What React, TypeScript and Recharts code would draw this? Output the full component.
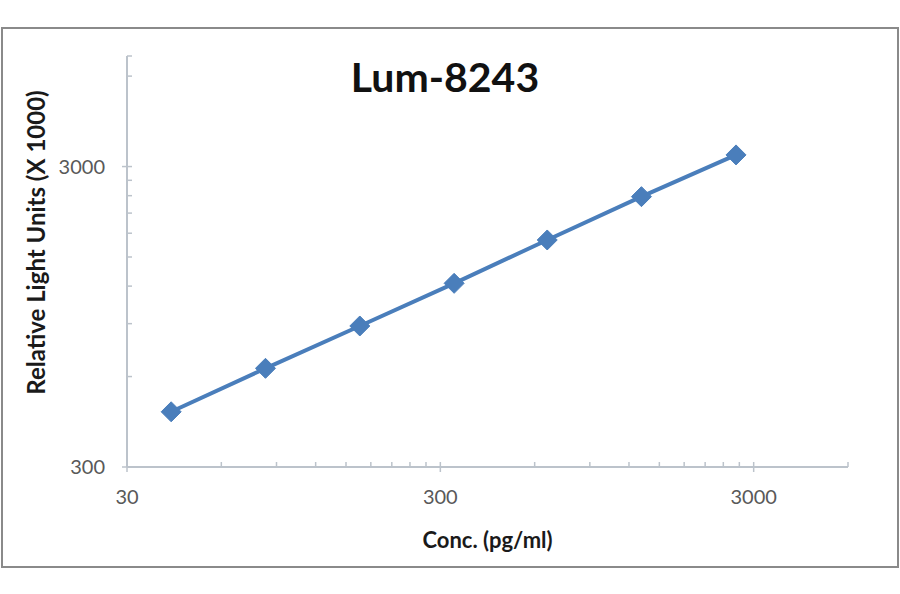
import React from 'react';
import { LineChart, Line, XAxis, YAxis } from 'recharts';

// standard curve, log-log
const concentrations = [41.5, 83, 166, 332, 658, 1315, 2635];
const rluValues = [458, 639, 884, 1226, 1709, 2382, 3280];

const xMajorTicks = [30, 300, 3000];
const xMinorTicks = [60, 90, 120, 150, 180, 210, 240, 270, 600, 900, 1200, 1500, 1800, 2100, 2400, 2700, 6000];
const yMajorTicks = [300, 3000];
const yMinorTicks = [600, 900, 1200, 1500, 1800, 2100, 2400, 2700, 6000, 7000];

const data = concentrations.map((conc, i) => ({ conc, rlu: rluValues[i] }));

const FONT = 'Lato, "Open Sans", sans-serif';
const AXIS_COLOR = '#bcc3cb';
const SERIES_COLOR = '#4a7ebb';

const XTick = (props: any) => {
  const { x, y, payload } = props;
  const major = xMajorTicks.includes(payload.value);
  return (
    <g>
      <line x1={x} x2={x} y1={y - 5} y2={major ? y + 5 : y} stroke={AXIS_COLOR} strokeWidth={1.5} />
      {major && (
        <text x={x} y={y + 37} textAnchor="middle" fill="#595959" fontSize={20} fontFamily={FONT}>
          {payload.value}
        </text>
      )}
    </g>
  );
};

const YTick = (props: any) => {
  const { x, y, payload } = props;
  const major = yMajorTicks.includes(payload.value);
  return (
    <g>
      <line x1={major ? x - 5 : x} x2={x + 5} y1={y} y2={y} stroke={AXIS_COLOR} strokeWidth={1.5} />
      {major && (
        <text x={x - 22} y={y + 7} textAnchor="end" fill="#595959" fontSize={20} fontFamily={FONT}>
          {payload.value}
        </text>
      )}
    </g>
  );
};

const XTitle = (props: any) => {
  const { x, y, width } = props.viewBox;
  return (
    <text x={x + width / 2} y={y + 81} textAnchor="middle" fontSize={22} fontWeight={700} fill="#1a1a1a" fontFamily={FONT}>
      Conc. (pg/ml)
    </text>
  );
};

const YTitle = (props: any) => {
  const { y, height } = props.viewBox;
  const cx = 35;
  const cy = y + height / 2 - 19;
  return (
    <text
      x={cx}
      y={cy}
      transform={`rotate(-90, ${cx}, ${cy})`}
      textAnchor="middle"
      dominantBaseline="central"
      fontSize={24}
      fontWeight={700}
      fill="#1a1a1a"
      fontFamily={FONT}
    >
      Relative Light Units (X 1000)
    </text>
  );
};

const Diamond = (props: any) => {
  const { cx, cy, index } = props;
  const r = 10;
  return (
    <path
      key={`d-${index}`}
      d={`M${cx},${cy - r} L${cx + r},${cy} L${cx},${cy + r} L${cx - r},${cy} Z`}
      fill={SERIES_COLOR}
      stroke={SERIES_COLOR}
      strokeWidth={1}
    />
  );
};

export default function App() {
  return (
    <div style={{ position: 'relative', width: 900, height: 594, background: '#fff', fontFamily: FONT }}>
      <style>{'body{margin:0}'}</style>
      <div
        style={{
          position: 'absolute',
          left: 1,
          top: 27,
          width: 894,
          height: 537,
          border: '2px solid #8a8a8a',
        }}
      />
      <div
        style={{
          position: 'absolute',
          left: 0,
          width: 890,
          top: 52,
          textAlign: 'center',
          fontSize: 41,
          fontWeight: 700,
          color: '#111',
          lineHeight: '50px',
        }}
      >
        Lum-8243
      </div>
      <LineChart
        width={900}
        height={594}
        data={data}
        margin={{ top: 56, right: 52, bottom: 47, left: 0 }}
        style={{ position: 'absolute', left: 0, top: 0 }}
      >
        <XAxis
          dataKey="conc"
          type="number"
          scale="log"
          domain={[30, 6000]}
          ticks={[...xMajorTicks, ...xMinorTicks].sort((a, b) => a - b)}
          interval={0}
          allowDataOverflow
          height={80}
          tickSize={0}
          tickMargin={0}
          tickLine={false}
          axisLine={{ stroke: AXIS_COLOR, strokeWidth: 2 }}
          tick={<XTick />}
          label={<XTitle />}
        />
        <YAxis
          dataKey="rlu"
          type="number"
          scale="log"
          domain={[300, 7000]}
          ticks={[...yMajorTicks, ...yMinorTicks].sort((a, b) => a - b)}
          interval={0}
          allowDataOverflow
          width={127}
          tickSize={0}
          tickMargin={0}
          tickLine={false}
          axisLine={{ stroke: AXIS_COLOR, strokeWidth: 2 }}
          tick={<YTick />}
          label={<YTitle />}
        />
        <Line
          type="linear"
          dataKey="rlu"
          stroke={SERIES_COLOR}
          strokeWidth={4}
          dot={<Diamond />}
          activeDot={false}
          isAnimationActive={false}
        />
      </LineChart>
    </div>
  );
}
